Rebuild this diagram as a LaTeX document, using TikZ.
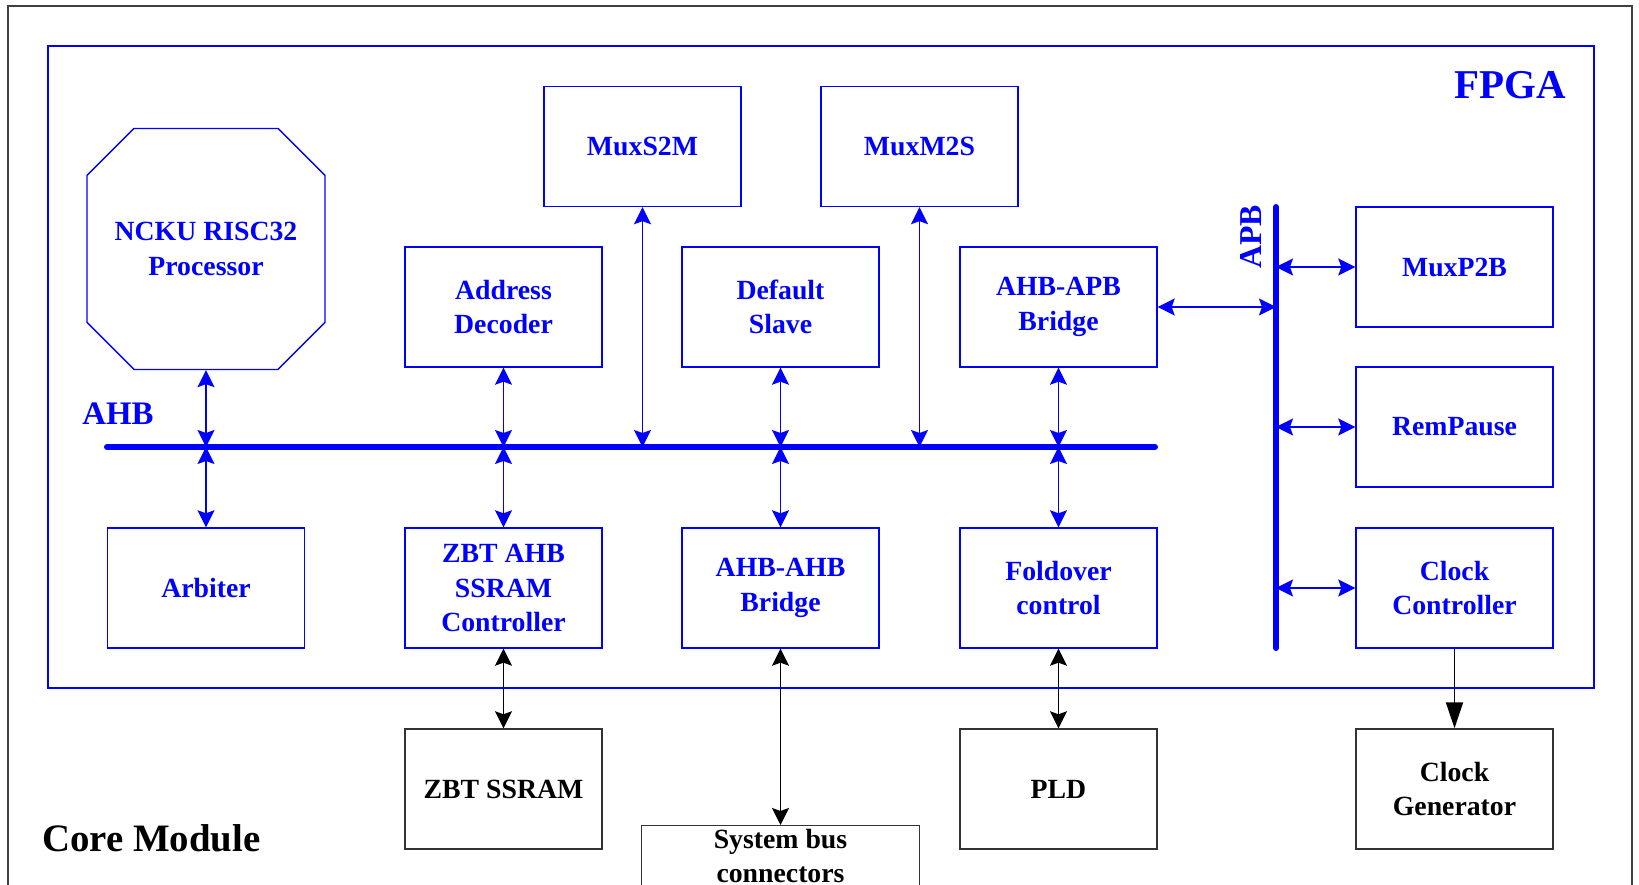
\documentclass[tikz,border=0pt]{standalone}
\usepackage{fontspec}
\setmainfont{Liberation Serif}
\usetikzlibrary{arrows.meta,shapes.misc}

\begin{document}
\begin{tikzpicture}[every node/.style={font=\bfseries\fontsize{15.8}{19.6}\selectfont, align=center},
	blk/.style={draw=blue, line width=0.8pt, text=blue, minimum width=3.94cm, minimum height=2.4cm, inner sep=0pt},
	ext/.style={draw=black!80, line width=0.8pt, text=black, minimum width=3.94cm, minimum height=2.4cm, inner sep=0pt},
	cpu/.style={blk, chamfered rectangle, chamfered rectangle xsep=0.47cm, chamfered rectangle ysep=0.47cm, minimum width=4.76cm, minimum height=4.82cm},
	lbl/.style={text=blue, inner sep=0pt},
	bus/.style={blue, line width=3.4pt, line cap=round},
	link/.style={blue, line width=1.1pt, >={Stealth[length=3.4mm,width=3.4mm,inset=0.6mm]}, <->},
	xlink/.style={black, line width=1.1pt, >={Stealth[length=3.4mm,width=3.4mm,inset=0.6mm]}, <->},
	xarrow/.style={black, line width=1.1pt, -{Triangle[length=5.2mm,width=3.4mm]}}]
	\path[use as bounding box, clip] (0,0) rectangle (32.78,17.70);
	\draw[black!75, line width=0.8pt] (0.16,-1) -- (0.16,17.58) -- (32.64,17.58) -- (32.64,-1);
	\draw[blue, line width=0.7pt] (0.96,3.94) rectangle (31.88,16.78);
	\node[lbl, font=\bfseries\fontsize{23.3}{28}\selectfont, anchor=east] (fpgaLbl) at (31.32,16.0) {FPGA};
	\node[lbl, font=\bfseries\fontsize{22.1}{26}\selectfont, text=black, anchor=base west] (coreLbl) at (0.84,0.66) {Core Module};

	\node[cpu] (cpu) at (4.12,12.72) {NCKU RISC32\\Processor};
	\node[blk] (muxs) at (12.85,14.77) {MuxS2M}; \node[blk] (muxm) at (18.39,14.77) {MuxM2S};
	\node[blk] (dec) at (10.07,11.56) {Address\\Decoder}; \node[blk] (dflt) at (15.61,11.56) {Default\\Slave}; \node[blk] (a2p) at (21.17,11.56) {AHB-APB\\Bridge};
	\node[blk] (arb) at (4.12,5.94) {Arbiter}; \node[blk] (zctl) at (10.07,5.94) {ZBT AHB\\SSRAM\\Controller}; \node[blk] (a2a) at (15.61,5.94) {AHB-AHB\\Bridge}; \node[blk] (fold) at (21.17,5.94) {Foldover\\control};
	\node[blk] (p2b) at (29.09,12.36) {MuxP2B}; \node[blk] (rem) at (29.09,9.16) {RemPause}; \node[blk] (clk) at (29.09,5.94) {Clock\\Controller};
	\node[ext] (zram) at (10.07,1.92) {ZBT SSRAM}; \node[ext] (pld) at (21.17,1.92) {PLD}; \node[ext] (cgen) at (29.09,1.92) {Clock\\Generator};
	\node[ext, minimum width=5.56cm, minimum height=0pt, inner sep=2pt, anchor=north] (sysb) at (15.61,1.2) {System bus\\connectors};

	\coordinate (ahbL) at (2.14,8.76); \coordinate (ahbR) at (23.10,8.76);
	\coordinate (apbT) at (25.52,13.56); \coordinate (apbB) at (25.52,4.74);
	\draw[bus] (ahbL) -- (ahbR); \draw[bus] (apbT) -- (apbB);
	\node[lbl, font=\bfseries\fontsize{18.7}{22}\selectfont, anchor=base west] (ahbLbl) at (1.64,9.2) {AHB};
	\node[lbl, font=\bfseries\fontsize{18.1}{22}\selectfont, rotate=90] (apbLbl) at (25.02,12.96) {APB};

	\foreach \n in {cpu,dec,muxs,dflt,muxm,a2p} {\draw[link] (\n.south) -- (\n.south |- ahbL);}
	\foreach \n in {arb,zctl,a2a,fold} {\draw[link] (\n.north) -- (\n.north |- ahbL);}
	\foreach \n in {p2b,rem,clk} {\draw[link] (\n.west) -- (\n.west -| apbT);}
	\draw[link] (a2p.east) -- (a2p.east -| apbT);
	\foreach \a/\b in {zctl/zram, a2a/sysb, fold/pld} {\draw[xlink] (\a.south) -- (\b.north);}
	\draw[xarrow] (clk.south) -- (cgen.north);
\end{tikzpicture}
\end{document}
